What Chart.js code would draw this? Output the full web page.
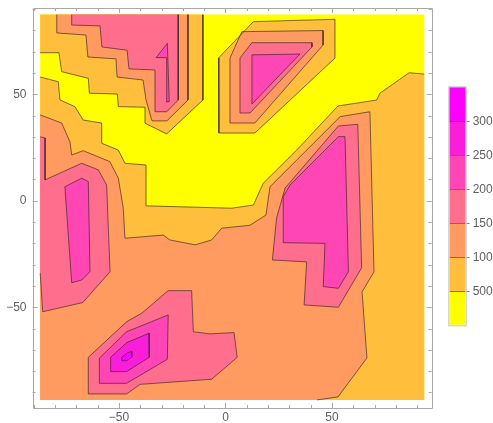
<!DOCTYPE html>
<html>
<head>
<meta charset="utf-8">
<script src="https://cdn.jsdelivr.net/npm/chart.js@4.4.1/dist/chart.umd.min.js"></script>
<style>
  html, body { margin: 0; padding: 0; background: #ffffff; }
  #wrap { position: relative; width: 493px; height: 423px; }
  #wrap canvas { position: absolute; left: 0; top: 0; }
</style>
</head>
<body>
<div id="wrap">
  <canvas id="plot" width="493" height="423"></canvas>
  <canvas id="legendBar" width="493" height="423"></canvas>
</div>
<script>
// ---- data domain and axes ----
const XL = -87, XR = 93.3, YB = -93.5, YT = 87.4;
const X_RANGE = [-90.6, 96.8];
const Y_RANGE = [-97.3, 90.5];
const X_TICKS = [-50, 0, 50];
const X_TICK_TEXT = ['\u221250', '0', '50'];
const Y_TICKS = [-50, 0, 50];
const Y_TICK_TEXT = ['\u221250', '0', '50'];

// ---- contour levels and band colours ----
const LEVELS = [0, 50, 100, 150, 200, 250, 300, 350];
const BAND_COLORS = ['#FFFF00', '#FFBE3C', '#FF9A60', '#FF6E8C', '#FF46B4', '#FA1EDA', '#FF00FF'];
const LEVEL_TICKS = [50, 100, 150, 200, 250, 300];
const LEVEL_TICK_TEXT = ['500', '100', '150', '200', '250', '300'];
const CONTOUR_LINE = 'rgba(45,30,30,0.62)';

// ---- regions where the field exceeds each level (x, y) ----
const REGIONS_0 = [
  [[XL, YB], [XR, YB], [XR, YT], [XL, YT]]
];
const REGIONS_50 = [
  [[XL, YT], [-10.6, YT], [-10.6, 47.3], [-27.6, 31.4], [-37.8, 36.4], [-37.8, 43.9], [-50.3, 44.2], [-50.8, 50.1], [-63.9, 50.5], [-64.4, 57.5], [-76.9, 60.6], [-78.2, 69.5], [XL, 69.5]],
  [[-3.3, 67.0], [-3.1, 31.8], [13.8, 31.8], [51.4, 67.0], [51.4, 85.2], [13.1, 84.1]],
  [[XL, 58.1], [XL, YB], [XR, YB], [XR, 59.5], [86.2, 60.1], [72.5, 50.5], [71.0, 47.3], [52.8, 44.5], [33.4, 23.8], [17.7, 8.2], [13.1, -2.0], [2.9, -3.5], [-37.0, -2.4], [-37.3, 16.8], [-47.2, 17.6], [-50.3, 23.8], [-58.1, 27.0], [-58.1, 36.5], [-66.8, 37.9], [-70.7, 44.2], [-77.7, 47.3], [-78.5, 55.9]]
];
const REGIONS_100 = [
  [[-79.2, YT], [-17.6, YT], [-17.6, 47.3], [-27.5, 37.5], [-34.5, 37.5], [-37.3, 47.3], [-38.7, 56.7], [-50.9, 58.1], [-51.4, 66.6], [-64.6, 67.5], [-65.5, 77.8], [-79.2, 78.8]],
  [[2.1, 67.0], [7.7, 79.4], [45.8, 79.9], [45.8, 73.1], [13.8, 36.5], [2.1, 36.5]],
  [[XL, 40.3], [-76.9, 36.5], [-73.0, 27.6], [-72.2, 21.5], [-66.8, 23.5], [-54.3, 18.4], [-50.3, 10.6], [-48.0, -3.5], [-47.2, -17.6], [-29.2, -16.1], [-26.1, -18.4], [-14.3, -20.7], [-6.5, -18.4], [-1.8, -12.9], [11.5, -11.5], [19.0, -6.7], [20.9, 6.6], [53.8, 39.5], [67.8, 41.8], [69.7, -33.4], [64.1, -42.8], [66.4, -73.8], [52.8, -92.1], [43.0, YB], [XL, YB]]
];
const REGIONS_150 = [
  [[-72.2, YT], [-22.2, YT], [-22.2, 47.3], [-27.6, 41.8], [-33.1, 41.8], [-33.1, 61.4], [-45.3, 61.9], [-46.2, 70.7], [-58.0, 72.2], [-58.9, 82.1], [-72.2, 82.5]],
  [[6.8, 67.0], [12.4, 74.2], [40.6, 74.2], [40.6, 72.2], [11.5, 41.2], [6.8, 41.2]],
  [[XL, 30.0], [-84.7, 29.5], [-84.7, 9.8], [-67.5, 17.6], [-59.7, 14.5], [-55.8, 7.4], [-54.2, -33.3], [-67.0, -47.8], [-85.8, -52.1], [XL, -33.9]],
  [[53.0, 35.1], [62.1, 35.9], [63.9, -31.5], [53.0, -50.0], [36.9, -48.9], [38.1, -28.7], [22.0, -27.8], [24.0, -8.0], [28.0, 6.0]],
  [[-64.4, -90.7], [-64.4, -73.5], [-46.4, -56.8], [-39.3, -52.8], [-26.9, -42.2], [-15.9, -42.2], [-15.1, -61.5], [-7.3, -62.5], [4.0, -61.9], [5.5, -73.5], [-6.5, -83.8], [-40.1, -86.2], [-46.4, -90.7]]
];
const REGIONS_200 = [
  [[-32.6, 67.2], [-27.3, 73.9], [-26.4, 46.5], [-27.9, 46.5], [-27.6, 67.2]],
  [[12.4, 68.5], [35.0, 68.9], [12.4, 45.4]],
  [[-75.4, 6.6], [-67.5, 10.6], [-64.4, 9.0], [-63.6, -33.3], [-67.5, -37.2], [-72.2, -38.5]],
  [[27.1, 1.9], [30.3, 7.4], [53.0, 30.1], [56.1, 30.1], [57.7, -33.3], [53.0, -41.1], [45.9, -40.3], [46.7, -20.0], [27.1, -19.7]],
  [[-59.2, -73.9], [-46.4, -61.5], [-26.9, -53.6], [-27.3, -74.4], [-46.4, -85.7], [-59.2, -85.7]]
];
const REGIONS_250 = [
  [[-53.9, -73.5], [-46.4, -66.6], [-35.9, -62.2], [-35.8, -73.5], [-46.4, -80.2], [-53.9, -80.2]]
];
const REGIONS_300 = [
  [[-48.7, -73.5], [-45.9, -71.3], [-44.0, -70.8], [-44.0, -73.5], [-46.4, -75.1], [-48.7, -75.1]]
];
const REGIONS = [REGIONS_0, REGIONS_50, REGIONS_100, REGIONS_150, REGIONS_200, REGIONS_250, REGIONS_300];

// ---- helpers ----
const toPt = ([x, y]) => ({ x, y });

// a polygon side lying on the domain border is not a contour line
function onBorder(a, b) {
  return (a[0] === XL && b[0] === XL) || (a[0] === XR && b[0] === XR) ||
         (a[1] === YB && b[1] === YB) || (a[1] === YT && b[1] === YT);
}

// split a closed polygon into the open runs that form its contour lines
function contourRuns(poly) {
  const n = poly.length;
  const border = poly.map((p, i) => onBorder(p, poly[(i + 1) % n]));
  const start = border.indexOf(true);
  if (start < 0) return [[...poly, poly[0]].map(toPt)];
  const runs = [];
  let cur = null;
  for (let s = 1; s <= n; s++) {
    const i = (start + s) % n;
    if (border[i]) {
      if (cur) { runs.push(cur); cur = null; }
    } else {
      if (!cur) cur = [toPt(poly[i])];
      cur.push(toPt(poly[(i + 1) % n]));
    }
  }
  if (cur) runs.push(cur);
  return runs;
}

const fillSets = [];
const lineSets = [];
REGIONS.forEach((polys, k) => {
  polys.forEach(poly => {
    const pts = poly.map(toPt);
    fillSets.push({
      data: [...pts, pts[0]],
      fill: 'shape',
      backgroundColor: BAND_COLORS[k],
      borderColor: 'rgba(0,0,0,0)',
      borderWidth: 0,
      pointRadius: 0,
      order: 100 - k
    });
    if (k > 0) {
      contourRuns(poly).forEach(run => lineSets.push({
        data: run,
        fill: false,
        borderColor: CONTOUR_LINE,
        borderWidth: 1,
        pointRadius: 0,
        order: 0
      }));
    }
  });
});

const labelFont = { family: "'Liberation Sans', Arial, sans-serif", size: 12 };
const labelColor = '#5f5f5f';
const frameColor = '#a8a8a8';

function tickText(values, texts) {
  return v => {
    const i = values.findIndex(t => Math.abs(t - v) < 1e-6);
    return i < 0 ? '' : texts[i];
  };
}

// frame on all four sides with inward tick marks every 10 units
const frameTicks = {
  id: 'frameTicks',
  afterDatasetsDraw(chart) {
    const { ctx, chartArea: a } = chart;
    const sx = chart.scales.x, sy = chart.scales.y;
    ctx.save();
    ctx.strokeStyle = frameColor;
    ctx.lineWidth = 1;
    ctx.beginPath();
    ctx.rect(Math.round(a.left) + 0.5, Math.round(a.top) + 0.5,
             Math.round(a.right) - Math.round(a.left), Math.round(a.bottom) - Math.round(a.top));
    ctx.stroke();
    ctx.beginPath();
    sx.ticks.forEach(t => {
      const v = t.value;
      if (Math.abs(v / 10 - Math.round(v / 10)) > 1e-6) return;
      const len = Math.abs(v % 50) < 1e-6 ? 5 : 3;
      const px = Math.round(sx.getPixelForValue(v)) + 0.5;
      ctx.moveTo(px, a.bottom); ctx.lineTo(px, a.bottom - len);
      ctx.moveTo(px, a.top); ctx.lineTo(px, a.top + len);
    });
    sy.ticks.forEach(t => {
      const v = t.value;
      if (Math.abs(v / 10 - Math.round(v / 10)) > 1e-6) return;
      const len = Math.abs(v % 50) < 1e-6 ? 5 : 3;
      const py = Math.round(sy.getPixelForValue(v)) + 0.5;
      ctx.moveTo(a.left, py); ctx.lineTo(a.left + len, py);
      ctx.moveTo(a.right, py); ctx.lineTo(a.right - len, py);
    });
    ctx.stroke();
    ctx.restore();
  }
};

new Chart(document.getElementById('plot'), {
  type: 'line',
  data: { datasets: [...fillSets, ...lineSets] },
  options: {
    responsive: false,
    animation: false,
    events: [],
    layout: { padding: { top: 8, right: 61.3, left: 0, bottom: 0 } },
    elements: { line: { tension: 0 }, point: { radius: 0 } },
    plugins: { legend: { display: false }, tooltip: { enabled: false } },
    scales: {
      x: {
        type: 'linear', min: X_RANGE[0], max: X_RANGE[1],
        afterFit: s => { s.height = 15; s.paddingLeft = 0; s.paddingRight = 0; },
        grid: { display: false, drawTicks: false }, border: { display: false },
        ticks: { stepSize: 10, includeBounds: false, autoSkip: false, maxRotation: 0,
                 padding: 2, color: labelColor, font: labelFont,
                 callback: tickText(X_TICKS, X_TICK_TEXT) }
      },
      y: {
        type: 'linear', min: Y_RANGE[0], max: Y_RANGE[1],
        afterFit: s => { s.width = 32.5; s.paddingTop = 0; s.paddingBottom = 0; },
        grid: { display: false, drawTicks: false }, border: { display: false },
        ticks: { stepSize: 10, includeBounds: false, autoSkip: false,
                 padding: 6, color: labelColor, font: labelFont,
                 callback: tickText(Y_TICKS, Y_TICK_TEXT) }
      }
    }
  },
  plugins: [frameTicks]
});

// ---- colour bar ----
const barOutline = {
  id: 'barOutline',
  afterDatasetsDraw(chart) {
    const { ctx, chartArea: a } = chart;
    ctx.save();
    ctx.strokeStyle = '#c4c4c4';
    ctx.lineWidth = 1;
    ctx.strokeRect(a.left - 0.5, a.top - 0.5, a.right - a.left + 1, a.bottom - a.top + 1);
    ctx.restore();
  }
};

new Chart(document.getElementById('legendBar'), {
  type: 'bar',
  data: {
    labels: [''],
    datasets: BAND_COLORS.map((c, i) => ({
      data: [LEVELS[i + 1] - LEVELS[i]],
      backgroundColor: c,
      borderColor: CONTOUR_LINE,
      borderWidth: i < BAND_COLORS.length - 1 ? { top: 1, bottom: 0, left: 0, right: 0 } : 0,
      borderSkipped: false,
      barPercentage: 1,
      categoryPercentage: 1
    }))
  },
  options: {
    responsive: false,
    animation: false,
    events: [],
    layout: { padding: { left: 449.3, top: 87.3, bottom: 97.7, right: 0 } },
    plugins: { legend: { display: false }, tooltip: { enabled: false } },
    scales: {
      x: { display: false, stacked: true },
      y: {
        stacked: true, position: 'right', min: LEVELS[0], max: LEVELS[LEVELS.length - 1],
        afterFit: s => { s.width = 27.3; s.paddingTop = 0; s.paddingBottom = 0; },
        grid: { drawOnChartArea: false, tickLength: 4,
                tickColor: c => LEVEL_TICKS.includes(c.tick.value) ? '#8a8a8a' : 'rgba(0,0,0,0)' },
        border: { display: false },
        ticks: { stepSize: 50, autoSkip: false, padding: 3, color: labelColor, font: labelFont,
                 callback: tickText(LEVEL_TICKS, LEVEL_TICK_TEXT) }
      }
    }
  },
  plugins: [barOutline]
});
</script>
</body>
</html>
